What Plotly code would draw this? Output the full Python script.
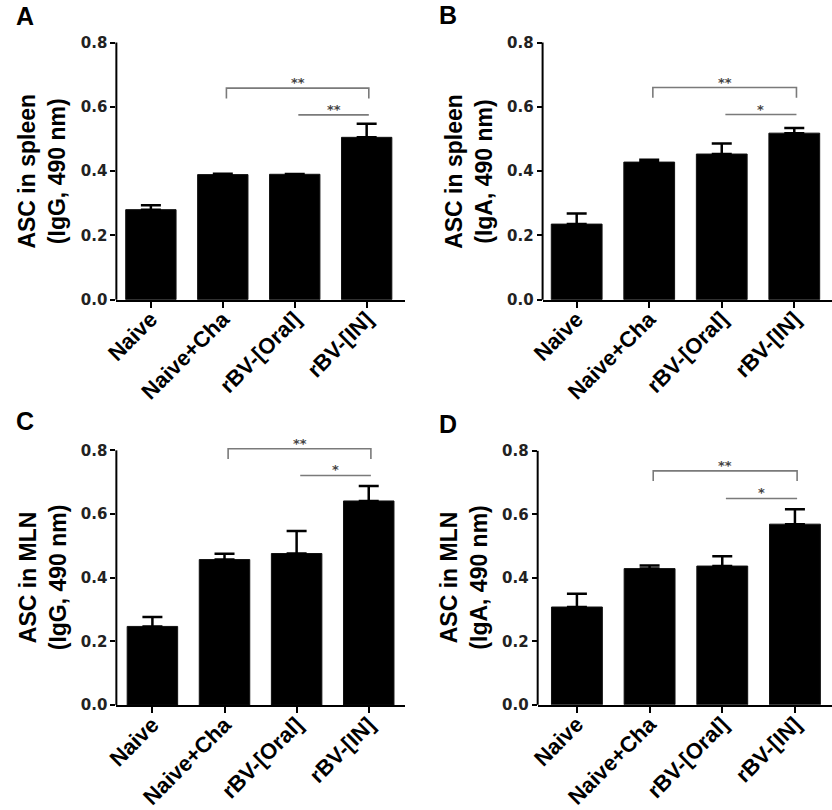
import plotly.graph_objects as go

groups = ["Naive", "Naive+Cha", "rBV-[Oral]", "rBV-[IN]"]

panel_letters = ["A", "B", "C", "D"]
y_titles = ["ASC in spleen<br>(IgG, 490 nm)", "ASC in spleen<br>(IgA, 490 nm)",
            "ASC in MLN<br>(IgG, 490 nm)", "ASC in MLN<br>(IgA, 490 nm)"]

# mean values and upper error for each panel
means_A = [0.280, 0.389, 0.390, 0.505]
errs_A = [0.014, 0.003, 0.001, 0.042]
means_B = [0.235, 0.428, 0.453, 0.518]
errs_B = [0.033, 0.007, 0.033, 0.016]
means_C = [0.247, 0.457, 0.476, 0.641]
errs_C = [0.030, 0.018, 0.071, 0.047]
means_D = [0.308, 0.429, 0.437, 0.569]
errs_D = [0.042, 0.010, 0.031, 0.047]

# significance brackets: (group from, group to, label, height)
sig_A = [(1, 3, "**", 0.658), (2, 3, "**", 0.575)]
sig_B = [(1, 3, "**", 0.660), (2, 3, "*", 0.576)]
sig_C = [(1, 3, "**", 0.805), (2, 3, "*", 0.721)]
sig_D = [(1, 3, "**", 0.737), (2, 3, "*", 0.650)]

means = [means_A, means_B, means_C, means_D]
errs = [errs_A, errs_B, errs_C, errs_D]
sigs = [sig_A, sig_B, sig_C, sig_D]

W, H = 832, 810
YMAX = 0.9
# pixel box of each plot area: left, right, bottom, top
boxes = [(105, 398, 303, 10.5), (538, 832, 303, 10.5),
         (105, 398, 713, 423.2), (533, 832, 712.7, 423.8)]
xranges = [[-0.48, 3.53], [-0.47, 3.52], [-0.5, 3.5], [-0.54, 3.51]]
letter_pos = [(1, 16), (431, 15), (1, 426), (431, 429)]

BOLD = "Liberation Sans, Arial, sans-serif"
TICKF = "DejaVu Sans, sans-serif"

fig = go.Figure()
annotations = []
shapes = []

for i in range(4):
    n = "" if i == 0 else str(i + 1)
    xa, ya = "x" + n, "y" + n
    l, r, b, t = boxes[i]
    xd = [l / W, min(r / W, 1.0)]
    yd = [(H - b) / H, (H - t) / H]

    fig.add_trace(go.Bar(
        x=list(range(len(groups))), y=means[i],
        width=0.7, marker=dict(color="black", line=dict(color="#111", width=1)),
        error_y=dict(type="data", symmetric=False, array=errs[i],
                     arrayminus=[0] * len(groups), color="black",
                     thickness=2.5, width=10),
        xaxis=xa, yaxis=ya, showlegend=False,
    ))

    fig.update_layout({
        "xaxis" + n: dict(domain=xd, anchor=ya, range=xranges[i],
                          tickvals=list(range(len(groups))), ticktext=groups,
                          tickangle=-45, ticks="outside", ticklen=6, tickwidth=2,
                          tickcolor="black", showline=True, linecolor="black",
                          linewidth=2, showgrid=False, zeroline=False,
                          ticklabelstandoff=-10,
                          tickfont=dict(family=BOLD, size=22, color="black", weight="bold")),
        "yaxis" + n: dict(domain=yd, anchor=xa, range=[0, YMAX],
                          tickvals=[0, 0.2, 0.4, 0.6, 0.8], tickformat=".1f",
                          ticks="outside", ticklen=5, tickwidth=2, tickcolor="black",
                          showline=False, showgrid=False, zeroline=False,
                          tickfont=dict(family=TICKF, size=15, color="#222", weight="bold")),
    })

    # y axis line only from 0 to 0.8
    y08 = yd[0] + 0.8 / YMAX * (yd[1] - yd[0])
    shapes.append(dict(type="line", xref="paper", yref="paper",
                       x0=xd[0], x1=xd[0], y0=yd[0], y1=y08,
                       line=dict(color="black", width=2)))

    # significance brackets
    for (g0, g1, lab, h) in sigs[i]:
        x0, x1 = g0 + 0.05, g1 + 0.03
        if g1 - g0 > 1:
            path = "M %f,%f L %f,%f L %f,%f L %f,%f" % (x0, h - 0.032, x0, h, x1, h, x1, h - 0.032)
        else:
            path = "M %f,%f L %f,%f" % (x0, h, x1, h)
        shapes.append(dict(type="path", xref=xa, yref=ya, path=path,
                           line=dict(color="#7a7a7a", width=1.6)))
        annotations.append(dict(x=(x0 + x1) / 2, y=h, xref=xa, yref=ya, text=lab,
                                showarrow=False, yanchor="bottom", yshift=-4,
                                font=dict(family=TICKF, size=13, color="#444", weight="bold")))

    # y axis title
    ymid = (yd[0] + y08) / 2
    annotations.append(dict(x=(l - 75) / W, y=ymid, xref="paper", yref="paper",
                            text=y_titles[i], textangle=-90, showarrow=False,
                            xanchor="center", yanchor="middle",
                            font=dict(family=BOLD, size=23, color="black", weight="bold")))

    # panel letter
    lx, ly = letter_pos[i]
    annotations.append(dict(x=lx / W, y=1 - ly / H, xref="paper", yref="paper",
                            text=panel_letters[i], showarrow=False,
                            xanchor="left", yanchor="middle",
                            font=dict(family=BOLD, size=25, color="black", weight="bold")))

fig.update_layout(
    width=W, height=H,
    margin=dict(l=0, r=0, t=0, b=0),
    paper_bgcolor="white", plot_bgcolor="white",
    annotations=annotations, shapes=shapes,
    hovermode=False,
)

fig.write_html("out.html", config={"displayModeBar": False},
               post_script="document.body.style.margin='0';document.body.style.overflow='hidden';")
